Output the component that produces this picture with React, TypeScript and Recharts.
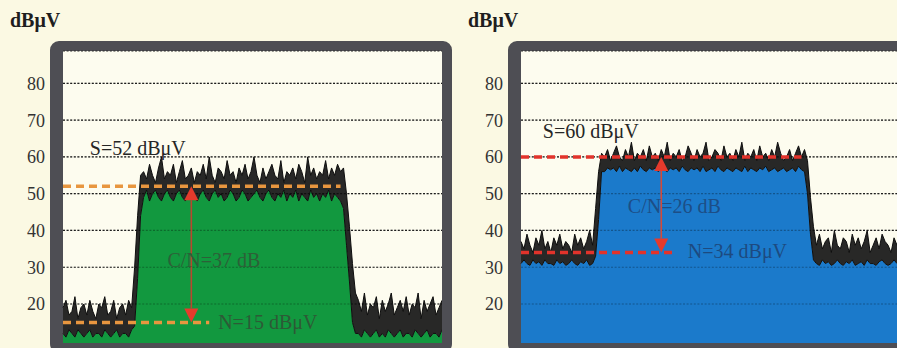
import { ComposedChart, Area, XAxis, YAxis, CartesianGrid, ReferenceLine, ReferenceDot } from 'recharts'

// y axis ticks (dBμV)
const yTicks = [20, 30, 40, 50, 60, 70, 80]

// left screen: upper / lower edge of the noisy trace, 128 sweep points
const leftHi = [
  19, 21, 17, 18, 22, 16, 19, 20, 17, 21, 18, 16, 20, 19, 22, 17, 18, 21, 16, 19, 20, 17, 21, 19,
  30, 44, 55,
  56, 54, 58, 55, 53, 57, 60, 54, 56, 55,
  58, 53, 56, 59, 54, 55, 57, 53, 56, 55,
  58, 54, 60, 55, 53, 57, 56, 54, 59, 55,
  56, 53, 57, 55, 58, 54, 56, 60, 55, 53,
  57, 54, 56, 58, 55, 54, 59, 53, 56, 55,
  57, 54, 58, 56, 53, 60, 55, 57, 54, 56,
  55, 59, 54, 57, 55, 58, 56,
  57, 50, 41, 31, 23,
  21, 18, 23, 17, 20, 19, 22, 16, 21, 18,
  20, 23, 17, 19, 21, 18, 22, 17, 20, 19,
  23, 16, 21, 18, 20, 22, 17, 19, 21,
]
const leftLo = [
  12, 11, 13, 12, 11, 13, 12, 11, 12, 13, 11, 12, 12, 11, 13, 12, 11, 12, 13, 11, 12, 12, 11, 13,
  14, 27, 44,
  49, 51, 48, 50, 51, 49, 48, 50, 51, 49,
  48, 50, 51, 49, 48, 50, 51, 49, 48, 50,
  51, 49, 48, 50, 51, 49, 50, 48, 49, 51,
  50, 48, 49, 51, 50, 48, 49, 50, 51, 49,
  48, 50, 51, 49, 48, 50, 49, 51, 48, 50,
  49, 51, 48, 50, 49, 48, 51, 49, 50, 48,
  50, 49, 51, 48, 50, 49, 48,
  46, 36, 26, 15, 12,
  12, 11, 13, 12, 11, 12, 13, 11, 12, 11,
  13, 12, 11, 12, 13, 11, 12, 12, 11, 13,
  12, 11, 12, 13, 11, 12, 12, 11, 13,
]

// right screen
const rightHi = [
  37, 35, 39, 36, 34, 38, 36, 40, 35, 37,
  34, 38, 36, 39, 35, 37, 36, 34, 39, 36,
  38, 35, 37, 40, 36,
  46, 56, 61,
  60, 62, 59, 61, 63, 60, 59, 62, 60, 64,
  59, 61, 60, 62, 59, 63, 60, 61, 59, 62,
  60, 64, 59, 61, 60, 62, 59, 60, 63, 61,
  59, 62, 60, 61, 64, 59, 60, 62, 61, 59,
  63, 60, 61, 59, 62, 60, 64, 59, 61, 60,
  62, 59, 63, 60, 61, 59, 62, 60, 64, 61,
  59, 60, 62, 59, 61, 63, 60, 62,
  59, 49, 41,
  36, 39, 35, 37, 38, 34, 40, 36, 35, 38,
  37, 34, 39, 36, 38, 35, 37, 40, 34, 36,
  38, 35, 39, 37, 36, 34, 38, 36, 39,
]
const rightLo = [
  31, 32, 31, 30.5, 32, 31, 31.5, 30.5, 32, 31,
  31, 30.5, 32, 31, 31.5, 30.5, 31, 32, 31, 30.5,
  31.5, 31, 32, 30.5, 31,
  33, 43, 56,
  56, 57, 56.5, 57, 56, 57.5, 56, 57, 56.5, 56,
  57, 56, 57.5, 56.5, 56, 57, 56.5, 57, 56, 57.5,
  56.5, 56, 57, 56.5, 57, 56, 57.5, 56.5, 56, 57,
  56.5, 57, 56, 57.5, 56, 56.5, 57, 56, 57.5, 56.5,
  56, 57, 56.5, 56, 57, 56.5, 56, 57.5, 56, 57,
  56.5, 56, 57, 56.5, 57.5, 56, 56.5, 57, 56, 56.5,
  57, 56, 56.5, 57, 56, 57.5, 56.5, 56,
  50, 39, 32,
  31, 30.5, 32, 31, 31.5, 30.5, 31, 32, 31, 30.5,
  31.5, 31, 32, 30.5, 31, 31.5, 30.5, 32, 31, 31,
  30.5, 31.5, 32, 31, 30.5, 31, 32, 31, 30.5,
]

// measured levels and label texts
const leftLevels = { signal: 52, noise: 15, signalEnd: 93, noiseEnd: 49, arrowAt: 43 }
const rightLevels = { signal: 60, noise: 34, signalEnd: 94, noiseEnd: 51, arrowAt: 47 }

const leftLabels = [
  { text: 'S=52 dBμV', x: 9, y: 60.5, color: '#262626' },
  { text: 'C/N=37 dB', x: 35, y: 30.1, color: '#2d6038' },
  { text: 'N=15 dBμV', x: 52, y: 13.2, color: '#2d5a36' },
]
const rightLabels = [
  { text: 'S=60 dBμV', x: 7.3, y: 65.1, color: '#262626' },
  { text: 'C/N=26 dB', x: 35.8, y: 44.7, color: '#1d4e86' },
  { text: 'N=34 dBμV', x: 55.9, y: 32.4, color: '#1d4a80' },
]

const SERIF = '"Liberation Serif", "Times New Roman", serif'
const Y_DOMAIN: [number, number] = [9.4, 88.8]

function makeArrow(lineColor: string, headColor: string) {
  return (p: any) => {
    const x = p.x1
    const top = Math.min(p.y1, p.y2)
    const bottom = Math.max(p.y1, p.y2)
    const h = 14
    const w = 7
    return (
      <g>
        <line x1={x} y1={top + h} x2={x} y2={bottom - h} stroke={lineColor} strokeWidth={1.6} />
        <polygon points={`${x},${top} ${x - w},${top + h} ${x + w},${top + h}`} fill={headColor} />
        <polygon points={`${x},${bottom} ${x - w},${bottom - h} ${x + w},${bottom - h}`} fill={headColor} />
      </g>
    )
  }
}

interface PanelProps {
  hi: number[]
  lo: number[]
  fill: string
  dash: string
  arrowLine: string
  arrowHead: string
  levels: typeof leftLevels
  labels: typeof leftLabels
  left: number
}

function Panel({ hi, lo, fill, dash, arrowLine, arrowHead, levels, labels, left }: PanelProps) {
  const data = hi.map((h, i) => ({ i, hi: h, lo: lo[i], band: [lo[i], h] }))
  const last = data.length - 1
  return (
    <>
      <div
        style={{
          position: 'absolute',
          left: left + 50,
          top: 41,
          width: 402,
          height: 312,
          boxSizing: 'border-box',
          borderStyle: 'solid',
          borderColor: '#4e4e54',
          borderWidth: '10px 10px 10px 13px',
          borderRadius: 9,
          background: '#fdfcef',
        }}
      />
      <div style={{ position: 'absolute', left: left + 10, top: 9, fontFamily: SERIF, fontWeight: 'bold', fontSize: 20, color: '#1e1e1e' }}>
        dBμV
      </div>
      <div style={{ position: 'absolute', left, top: 0 }}>
        <ComposedChart width={442} height={343} data={data} margin={{ top: 51, right: 0, bottom: 0, left: 0 }}>
          <CartesianGrid vertical={false} stroke="#2a2a2a" strokeWidth={1.2} strokeDasharray="2 1.6" />
          <XAxis dataKey="i" type="number" domain={[0, last]} hide />
          <YAxis
            type="number"
            domain={Y_DOMAIN}
            allowDataOverflow
            ticks={yTicks}
            interval={0}
            width={63}
            tickSize={0}
            tickMargin={18}
            axisLine={false}
            tickLine={false}
            tick={{ fontFamily: SERIF, fontSize: 18, fill: '#333' }}
          />
          <Area type="linear" dataKey="lo" stroke="none" fill={fill} fillOpacity={1} isAnimationActive={false} />
          {yTicks.map(t => (
            <ReferenceLine key={t} y={t} stroke="#000" strokeOpacity={0.3} strokeWidth={1.2} strokeDasharray="2 1.6" />
          ))}
          <Area
            type="linear"
            dataKey="band"
            stroke="#0e0e0e"
            strokeWidth={1}
            fill="#161616"
            fillOpacity={0.92}
            isAnimationActive={false}
          />
          <ReferenceLine
            segment={[{ x: 0, y: levels.signal }, { x: levels.signalEnd, y: levels.signal }]}
            stroke={dash}
            strokeWidth={3.5}
            strokeDasharray="8 5"
          />
          <ReferenceLine
            segment={[{ x: 0, y: levels.noise }, { x: levels.noiseEnd, y: levels.noise }]}
            stroke={dash}
            strokeWidth={3.5}
            strokeDasharray="8 5"
          />
          <ReferenceLine
            segment={[{ x: levels.arrowAt, y: levels.signal }, { x: levels.arrowAt, y: levels.noise }]}
            shape={makeArrow(arrowLine, arrowHead)}
          />
          {labels.map(l => (
            <ReferenceDot
              key={l.text}
              x={l.x}
              y={l.y}
              r={0}
              shape={(p: any) => (
                <text x={p.cx} y={p.cy} fontFamily={SERIF} fontSize={20} fill={l.color} textAnchor="start">
                  {l.text}
                </text>
              )}
            />
          ))}
        </ComposedChart>
      </div>
    </>
  )
}

export default function App() {
  return (
    <div
      style={{
        position: 'fixed',
        left: 0,
        top: 0,
        width: 897,
        height: 348,
        overflow: 'hidden',
        background: '#fbf9e3',
      }}
    >
      <Panel
        hi={leftHi}
        lo={leftLo}
        fill="#12983f"
        dash="#e8963f"
        arrowLine="#b9472f"
        arrowHead="#e63a2c"
        levels={leftLevels}
        labels={leftLabels}
        left={0}
      />
      <Panel
        hi={rightHi}
        lo={rightLo}
        fill="#1b7acb"
        dash="#e2332b"
        arrowLine="#d44a38"
        arrowHead="#e63a2c"
        levels={rightLevels}
        labels={rightLabels}
        left={458}
      />
    </div>
  )
}
